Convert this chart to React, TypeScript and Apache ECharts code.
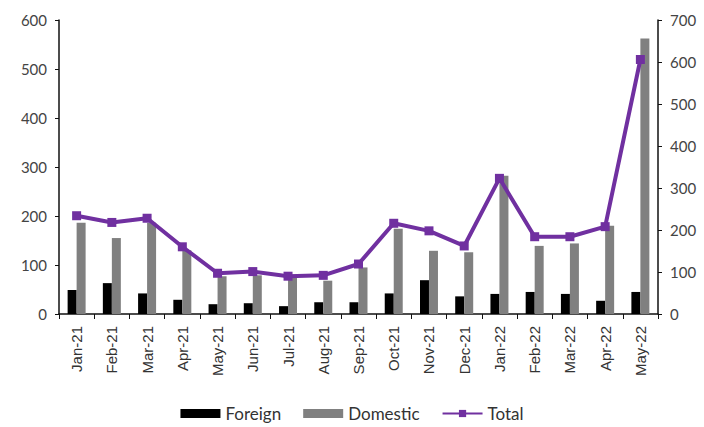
import React, { useEffect, useRef } from "react";
import * as echarts from "echarts";

const categories = ["Jan-21", "Feb-21", "Mar-21", "Apr-21", "May-21", "Jun-21", "Jul-21", "Aug-21", "Sep-21", "Oct-21", "Nov-21", "Dec-21", "Jan-22", "Feb-22", "Mar-22", "Apr-22", "May-22"];
const foreign = [49, 63, 42, 29, 20, 22, 16, 24, 24, 42, 69, 36, 41, 45, 41, 27, 45];
const domestic = [186, 155, 186, 130, 77, 79, 74, 68, 95, 174, 129, 126, 282, 139, 144, 180, 562];
const total = [234, 218, 228, 160, 97, 101, 90, 92, 119, 216, 198, 162, 323, 184, 184, 208, 606];

export default function App() {
  const ref = useRef<HTMLDivElement>(null);
  useEffect(() => {
    if (!ref.current) return;
    const chart = echarts.init(ref.current, null, { renderer: "svg" });
    const axisLine = { show: true, lineStyle: { color: "#111", width: 1.5 } };
    const numLabel = { color: "#444", fontFamily: "Lato", fontSize: 15 };
    chart.setOption({
      animation: false,
      backgroundColor: "#fff",
      grid: { left: 59, right: 46, top: 20, bottom: 113, containLabel: false },
      legend: {
        bottom: 0,
        left: "center",
        itemWidth: 40,
        itemHeight: 9,
        itemGap: 22,
        textStyle: { fontFamily: "Lato", fontSize: 17, color: "#333" },
        data: [
          { name: "Foreign", icon: "rect" },
          { name: "Domestic", icon: "rect" },
          { name: "Total" },
        ],
      },
      xAxis: {
        type: "category",
        data: categories,
        axisLine,
        axisTick: { show: true, length: 5, lineStyle: { color: "#111" } },
        axisLabel: {
          rotate: 90,
          interval: 0,
          margin: 12,
          color: "#333",
          fontFamily: "Liberation Sans",
          fontSize: 15,
        },
      },
      yAxis: [
        {
          type: "value",
          min: 0,
          max: 600,
          interval: 100,
          position: "left",
          axisLine,
          axisTick: { show: true, length: 4, lineStyle: { color: "#111" } },
          splitLine: { show: false },
          axisLabel: { ...numLabel, margin: 12 },
        },
        {
          type: "value",
          min: 0,
          max: 700,
          interval: 100,
          position: "right",
          axisLine,
          axisTick: { show: true, length: 4, lineStyle: { color: "#111" } },
          splitLine: { show: false },
          axisLabel: { ...numLabel, margin: 12 },
        },
      ],
      series: [
        {
          name: "Foreign",
          type: "bar",
          data: foreign,
          yAxisIndex: 0,
          barWidth: 9,
          barGap: "0%",
          itemStyle: { color: "#000" },
        },
        {
          name: "Domestic",
          type: "bar",
          data: domestic,
          yAxisIndex: 0,
          barWidth: 9,
          barGap: "0%",
          itemStyle: { color: "#808080" },
        },
        {
          name: "Total",
          type: "line",
          data: total,
          yAxisIndex: 1,
          symbol: "rect",
          symbolSize: 9,
          lineStyle: { color: "#7030A0", width: 4 },
          itemStyle: { color: "#7030A0" },
        },
      ],
    });
    return () => chart.dispose();
  }, []);
  return <div ref={ref} style={{ width: 704, height: 427, position: "absolute", left: 0, top: 0 }} />;
}
